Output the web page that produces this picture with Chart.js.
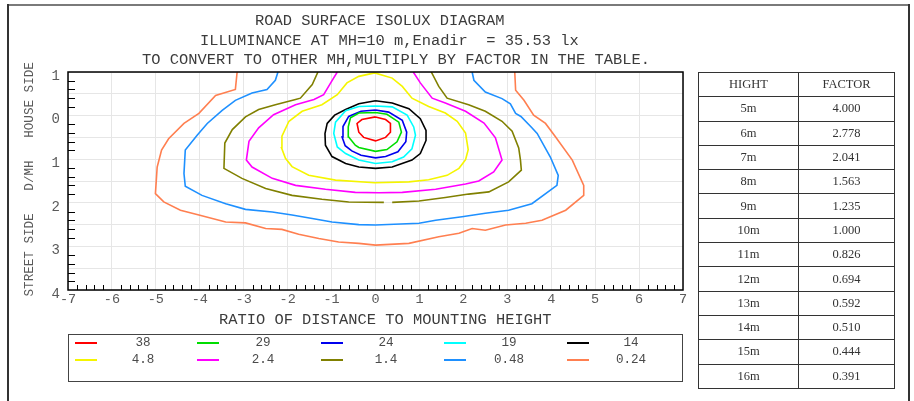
<!DOCTYPE html>
<html>
<head>
<meta charset="utf-8">
<script src="https://cdn.jsdelivr.net/npm/chart.js@4/dist/chart.umd.min.js"></script>
<style>
  html, body { margin:0; padding:0; background:#fff; }
  body { width:914px; height:401px; position:relative; overflow:hidden; font-family:"Liberation Mono", monospace; color:#333; }
  #wrap { position:absolute; left:0; top:0; width:914px; height:401px; }
  .t { position:absolute; white-space:pre; font-family:"Liberation Mono", monospace; color:#3c3c3c; line-height:1; }
  .frame { position:absolute; background:#7a7a7a; }
  #legend { position:absolute; left:68px; top:334px; width:613px; height:46px; border:1.5px solid #444; box-sizing:content-box; }
  .lg-line { position:absolute; height:2px; width:22px; }
  .lg-txt { position:absolute; font-family:"Liberation Mono", monospace; font-size:12.6px; color:#4a4a4a; white-space:pre; transform:translate(-50%,-50%); line-height:1; }
  table { position:absolute; left:698px; top:72px; width:197px; border-collapse:collapse; font-family:"Liberation Serif", serif; font-size:12.5px; color:#333; }
  td { border:1px solid #333; height:23.3px; padding:0; text-align:center; }
</style>
</head>
<body>
<div id="wrap"><canvas id="c" width="914" height="401"></canvas></div>

<div class="frame" style="left:7px; top:4px; width:902px; height:2px;"></div>
<div class="frame" style="left:7px; top:4px; width:1.5px; height:397px; background:#333;"></div>
<div class="frame" style="left:908px; top:4px; width:1.5px; height:397px; background:#333;"></div>

<div class="t" style="left:255px; top:14px; font-size:15.4px;">ROAD SURFACE ISOLUX DIAGRAM</div>
<div class="t" style="left:200px; top:34px; font-size:15.4px;">ILLUMINANCE AT MH=10 m,Enadir  = 35.53 lx</div>
<div class="t" style="left:142px; top:53px; font-size:15.4px;">TO CONVERT TO OTHER MH,MULTIPLY BY FACTOR IN THE TABLE.</div>
<div class="t" style="left:219px; top:313px; font-size:15.4px;">RATIO OF DISTANCE TO MOUNTING HEIGHT</div>
<div class="t" style="left:-100px; top:173px; width:260px; text-align:center; font-size:12.6px; color:#5a5a5a; transform:rotate(-90deg);">STREET SIDE   D/MH   HOUSE SIDE</div>

<div id="legend"></div>
<table id="tbl"></table>

<script>
// ---- contour levels (lux) and colours ----
const levels = ['38', '29', '24', '19', '14', '4.8', '2.4', '1.4', '0.48', '0.24'];
const colors = ['#ff0000', '#00dd00', '#0000ee', '#00ffff', '#000000', '#f5f500', '#ff00ff', '#808000', '#1e90ff', '#ff7f50'];

// ---- contour polylines [x (D/MH along road), y (D/MH across road)] ----
const lux38 = [[0.00,0.03],[0.23,0.09],[0.34,0.18],[0.34,0.38],[0.23,0.50],[0.00,0.58],[-0.27,0.50],[-0.38,0.38],[-0.42,0.18],[-0.31,0.09],[0.00,0.03]];
const lux29 = [[0.00,-0.07],[0.26,-0.03],[0.53,0.15],[0.59,0.38],[0.49,0.60],[0.26,0.78],[0.00,0.82],[-0.38,0.73],[-0.46,0.68],[-0.61,0.49],[-0.62,0.26],[-0.57,0.05],[-0.38,-0.06],[0.00,-0.07]];
const lux24 = [[0.00,-0.13],[0.30,-0.08],[0.61,0.11],[0.71,0.38],[0.69,0.60],[0.51,0.83],[0.23,0.94],[0.00,0.97],[-0.33,0.91],[-0.54,0.81],[-0.69,0.69],[-0.76,0.49],[-0.74,0.25],[-0.61,0.02],[-0.33,-0.10],[0.00,-0.13]];
const lux19 = [[0.00,-0.22],[0.38,-0.20],[0.72,-0.01],[0.87,0.26],[0.91,0.45],[0.83,0.76],[0.64,0.95],[0.38,1.06],[0.00,1.10],[-0.38,1.02],[-0.68,0.87],[-0.87,0.72],[-0.95,0.41],[-0.91,0.15],[-0.68,-0.11],[-0.38,-0.21],[0.00,-0.22]];
const lux14 = [[0.00,-0.34],[0.38,-0.29],[0.76,-0.16],[1.02,0.07],[1.15,0.34],[1.15,0.57],[1.02,0.87],[0.83,1.02],[0.38,1.18],[0.00,1.21],[-0.38,1.18],[-0.68,1.10],[-0.99,0.94],[-1.14,0.68],[-1.15,0.41],[-1.10,0.18],[-0.93,-0.01],[-0.68,-0.14],[-0.38,-0.27],[0.00,-0.34]];
const lux4_8 = [[-0.02,-0.98],[0.38,-0.86],[0.61,-0.67],[0.83,-0.40],[1.21,-0.21],[1.59,-0.06],[1.86,0.13],[2.05,0.40],[2.11,0.78],[2.05,1.01],[1.90,1.21],[1.63,1.37],[1.21,1.47],[0.76,1.52],[-0.02,1.54],[-0.91,1.48],[-1.52,1.37],[-1.90,1.17],[-2.05,0.98],[-2.14,0.74],[-2.13,0.47],[-1.97,0.13],[-1.67,-0.10],[-1.22,-0.25],[-0.87,-0.48],[-0.65,-0.75],[-0.38,-0.90],[-0.02,-0.98]];
const lux2_4 = [[-0.87,-1.0],[-1.02,-0.75],[-1.18,-0.48],[-1.40,-0.37],[-1.82,-0.25],[-2.32,-0.02],[-2.66,0.28],[-2.88,0.59],[-2.94,1.02],[-2.81,1.18],[-2.35,1.44],[-1.82,1.60],[-1.14,1.69],[-0.46,1.76],[0.08,1.77],[0.61,1.76],[1.37,1.69],[2.05,1.57],[2.35,1.50],[2.69,1.29],[2.88,1.02],[2.73,0.51],[2.47,0.17],[2.05,-0.10],[1.59,-0.29],[1.29,-0.40],[1.02,-0.75],[0.86,-1.0]];
const lux1_4 = [[-1.31,-1.0],[-1.44,-0.71],[-1.71,-0.40],[-1.82,-0.37],[-2.28,-0.25],[-2.66,-0.14],[-2.96,0.03],[-3.26,0.32],[-3.43,0.63],[-3.45,1.21],[-3.04,1.44],[-2.50,1.67],[-1.90,1.83],[-1.22,1.92],[-0.61,1.98],[0.19,1.99],[0.28,null],[0.38,1.99],[0.99,1.96],[1.59,1.88],[2.12,1.80],[2.58,1.75],[3.03,1.52],[3.32,1.25],[3.30,1.02],[3.26,0.74],[3.11,0.36],[2.88,0.13],[2.50,-0.10],[2.12,-0.25],[1.63,-0.40],[1.44,-0.67],[1.27,-1.0]];
const lux0_48 = [[-2.22,-1.0],[-2.28,-0.81],[-2.47,-0.60],[-2.81,-0.52],[-3.19,-0.35],[-3.49,-0.12],[-3.83,0.18],[-4.06,0.45],[-4.33,0.79],[-4.36,1.33],[-4.33,1.62],[-3.95,1.83],[-3.41,2.02],[-2.96,2.15],[-2.35,2.21],[-1.90,2.28],[-1.44,2.36],[-0.99,2.44],[-0.38,2.50],[0.00,2.51],[0.99,2.47],[1.37,2.40],[1.97,2.32],[2.50,2.24],[3.03,2.17],[3.56,2.02],[4.13,1.60],[4.16,1.37],[3.98,0.95],[3.68,0.41],[3.56,0.28],[3.31,0.02],[3.19,-0.05],[3.07,-0.27],[2.88,-0.39],[2.50,-0.54],[2.24,-0.81],[2.20,-1.0]];
const lux0_24 = [[-3.15,-1.0],[-3.19,-0.60],[-3.64,-0.46],[-4.02,-0.05],[-4.36,0.18],[-4.71,0.53],[-4.87,0.79],[-4.97,1.18],[-5.01,1.79],[-4.82,1.98],[-4.44,2.17],[-4.02,2.28],[-3.41,2.44],[-2.96,2.46],[-2.50,2.59],[-2.13,2.61],[-1.75,2.72],[-1.29,2.82],[-0.84,2.90],[-0.38,2.93],[0.00,2.97],[0.76,2.93],[1.44,2.78],[1.90,2.70],[2.20,2.59],[2.50,2.63],[2.96,2.51],[3.42,2.47],[3.79,2.40],[4.33,2.17],[4.74,1.83],[4.74,1.60],[4.48,1.02],[4.10,0.49],[3.87,0.18],[3.60,-0.01],[3.38,-0.35],[3.19,-0.58],[3.17,-1.0]];
const contours = [lux38, lux29, lux24, lux19, lux14, lux4_8, lux2_4, lux1_4, lux0_48, lux0_24];

// ---- axis ticks ----
const xTicks = [-7, -6, -5, -4, -3, -2, -1, 0, 1, 2, 3, 4, 5, 6, 7];
const yTicks = [-1, 0, 1, 2, 3, 4];   // shown as distance (house side above 0)

// ---- factor table ----
const heights = ['5m','6m','7m','8m','9m','10m','11m','12m','13m','14m','15m','16m'];
const factors = ['4.000','2.778','2.041','1.563','1.235','1.000','0.826','0.694','0.592','0.510','0.444','0.391'];

// table
const tbl = document.getElementById('tbl');
let html = '<tr><td style="width:99px">HIGHT</td><td>FACTOR</td></tr>';
heights.forEach((h, i) => { html += `<tr><td>${h}</td><td>${factors[i]}</td></tr>`; });
tbl.innerHTML = html;

// legend
const lg = document.getElementById('legend');
const colX = [6, 128, 252, 375, 498];
const colLabelX = [74, 194, 317, 440, 562];
const rowY = [8, 25];
levels.forEach((lv, i) => {
  const r = Math.floor(i / 5), c = i % 5;
  const ln = document.createElement('div');
  ln.className = 'lg-line';
  ln.style.left = colX[c] + 'px';
  ln.style.top = (rowY[r] - 1) + 'px';
  ln.style.background = colors[i];
  lg.appendChild(ln);
  const tx = document.createElement('div');
  tx.className = 'lg-txt';
  tx.style.left = colLabelX[c] + 'px';
  tx.style.top = rowY[r] + 'px';
  tx.textContent = lv;
  lg.appendChild(tx);
});

const datasets = contours.map((pts, i) => ({
  label: levels[i],
  data: pts.map(p => ({ x: p[0], y: p[1] })),
  showLine: true,
  borderColor: colors[i],
  backgroundColor: colors[i],
  borderWidth: 1.6,
  pointRadius: 0,
  tension: 0,
  spanGaps: false
}));

const frame = {
  id: 'frame',
  afterDraw(chart) {
    const { ctx, chartArea: a, scales: { x, y } } = chart;
    ctx.save();
    ctx.strokeStyle = '#000';
    ctx.lineWidth = 1;
    ctx.beginPath();
    for (let i = -70; i <= 70; i += 2) {
      if (i % 10 === 0) continue;
      const px = Math.round(x.getPixelForValue(i / 10)) + 0.5;
      ctx.moveTo(px, a.bottom); ctx.lineTo(px, a.bottom - 5);
    }
    for (let j = -10; j <= 40; j += 2) {
      if (j % 10 === 0) continue;
      const py = Math.round(y.getPixelForValue(j / 10)) + 0.5;
      ctx.moveTo(a.left, py); ctx.lineTo(a.left + 7, py);
    }
    ctx.stroke();
    ctx.lineWidth = 1.5;
    ctx.strokeRect(a.left, a.top, a.right - a.left, a.bottom - a.top);
    ctx.restore();
  }
};

Chart.defaults.font.family = '"Liberation Mono", monospace';
new Chart(document.getElementById('c'), {
  type: 'scatter',
  data: { datasets },
  options: {
    responsive: false,
    animation: false,
    devicePixelRatio: 1,
    layout: { padding: { left: 0, top: 72, right: 231, bottom: 81 } },
    plugins: { legend: { display: false }, tooltip: { enabled: false } },
    scales: {
      x: {
        type: 'linear', min: xTicks[0], max: xTicks[xTicks.length - 1],
        afterBuildTicks: s => { s.ticks = xTicks.map(v => ({ value: v })); },
        afterFit: s => { s.height = 30; },
        ticks: { color: '#5a5a5a', font: { size: 13.5 }, padding: 1, maxRotation: 0, autoSkip: false,
                 callback: v => String(v) },
        grid: { color: '#e6e6e6', drawTicks: false, lineWidth: 1 },
        border: { display: false }
      },
      y: {
        type: 'linear', reverse: true, min: yTicks[0], max: yTicks[yTicks.length - 1],
        afterBuildTicks: s => {
          const t = [];
          for (let k = yTicks[0] * 2; k <= yTicks[yTicks.length - 1] * 2; k++) t.push({ value: k / 2 });
          s.ticks = t;
        },
        afterFit: s => { s.width = 68; },
        ticks: { color: '#5a5a5a', font: { size: 14 }, padding: 8, labelOffset: 4, autoSkip: false,
                 callback: v => (yTicks.includes(v) ? String(Math.abs(v)) : '') },
        grid: { color: '#e6e6e6', drawTicks: false, lineWidth: 1 },
        border: { display: false }
      }
    }
  },
  plugins: [frame]
});
</script>
</body>
</html>
